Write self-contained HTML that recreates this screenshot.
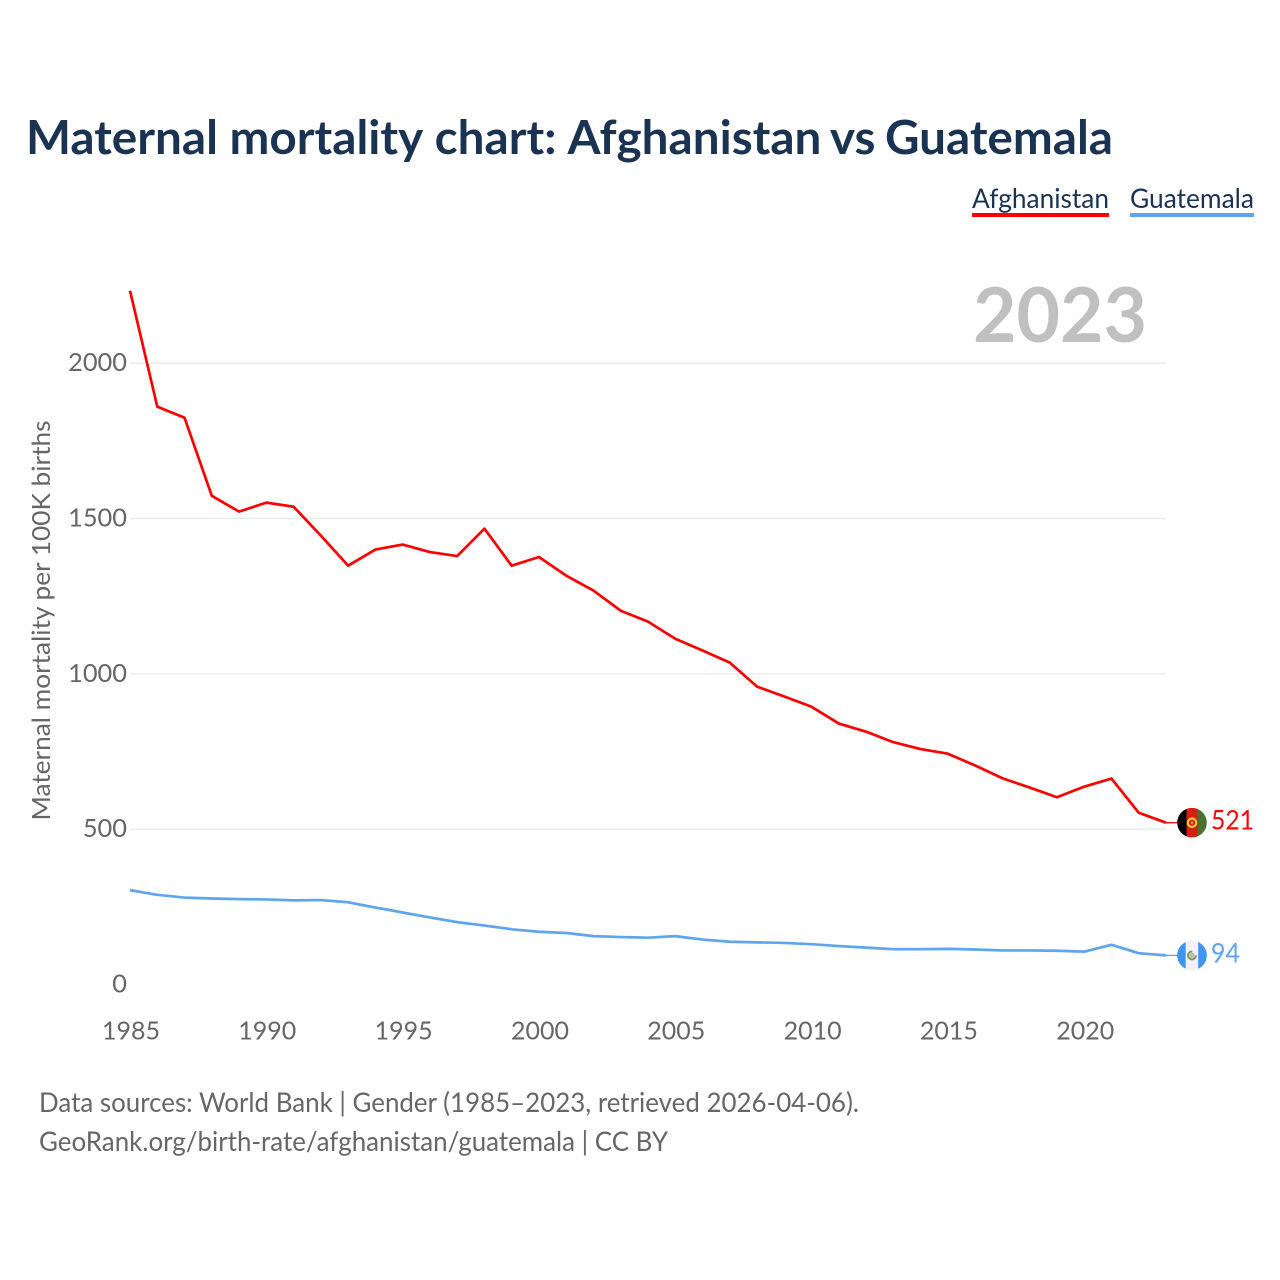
<!DOCTYPE html>
<html lang="en">
<head>
<meta charset="utf-8">
<title>Maternal mortality chart: Afghanistan vs Guatemala</title>
<style>
html,body{margin:0;padding:0;background:#fff;width:1280px;height:1280px;overflow:hidden}
svg{display:block}
text{font-family:"Lato","Carlito","Liberation Sans",sans-serif}
</style>
</head>
<body>
<svg id="chart" xmlns="http://www.w3.org/2000/svg" width="1280" height="1280" viewBox="0 0 1280 1280">
  <rect width="1280" height="1280" fill="#fff"/>
  <text x="26" y="154" font-size="47" font-weight="700" fill="#1a3353" textLength="1087" lengthAdjust="spacingAndGlyphs">Maternal mortality <tspan dx="1">chart:</tspan> <tspan dx="1">Afghanistan</tspan> <tspan dx="-2">vs</tspan> <tspan dx="-2">Guatemala</tspan></text>

  <g>
    <text x="972" y="208" font-size="27" fill="#1a3353" textLength="137" lengthAdjust="spacingAndGlyphs">Afghanistan</text>
    <rect x="972" y="213" width="137" height="4" fill="#ff0000"/>
  </g>
  <g>
    <text x="1130" y="208" font-size="27" fill="#1a3353" textLength="124" lengthAdjust="spacingAndGlyphs">Guatemala</text>
    <rect x="1130" y="213" width="124" height="4" fill="#5ea5ee"/>
  </g>

  <text x="1147" y="342" text-anchor="end" font-size="76" font-weight="700" fill="#c0c0c0" textLength="174" lengthAdjust="spacingAndGlyphs">2023</text>

  <g id="grid"></g>
  <g id="yticks"></g>
  <g id="xticks"></g>

  <text transform="translate(50,620.5) rotate(-90)" text-anchor="middle" font-size="25" fill="#666" textLength="400" lengthAdjust="spacingAndGlyphs">Maternal mortality per 100K births</text>

  <path id="line-afg" fill="none" stroke="#ff0000" stroke-width="2.7" stroke-linejoin="round"/>
  <path id="line-gtm" fill="none" stroke="#5ea5ee" stroke-width="2.7" stroke-linejoin="round"/>
  <line id="lead-afg" stroke="#ff0000" stroke-width="1.3"/>
  <line id="lead-gtm" stroke="#5ea5ee" stroke-width="1.3"/>

  <defs>
    <clipPath id="clip-afg"><circle id="clip-afg-c" cx="1192" cy="0" r="14.8"/></clipPath>
    <clipPath id="clip-gtm"><circle id="clip-gtm-c" cx="1192" cy="0" r="14.8"/></clipPath>
  </defs>

  <g id="flag-afg" clip-path="url(#clip-afg)">
    <rect id="afg-a" x="1177" width="9.5" height="32" fill="#000"/>
    <rect id="afg-b" x="1186.5" width="11" height="32" fill="#d32011"/>
    <rect id="afg-c" x="1197.5" width="10" height="32" fill="#4a7032"/>
    <circle id="afg-d" cx="1192" r="4.2" fill="none" stroke="#f5c242" stroke-width="2.2"/>
    <circle id="afg-e" cx="1192" r="1.2" fill="#f0b060"/>
  </g>
  <g id="flag-gtm" clip-path="url(#clip-gtm)">
    <rect id="gtm-a" x="1177" width="8.8" height="32" fill="#3f94f2"/>
    <rect id="gtm-b" x="1185.8" width="12.4" height="32" fill="#f1f1f1"/>
    <rect id="gtm-c" x="1198.2" width="10" height="32" fill="#3f94f2"/>
    <circle id="gtm-d" cx="1192" r="2.6" fill="#b9bdb0"/>
    <circle id="gtm-e" cx="1192" r="4" fill="none" stroke="#7a9a5a" stroke-width="1.9" stroke-dasharray="19 6.1" transform="rotate(0)"/>
  </g>

  <text id="label-afg" x="1211" font-size="27" fill="#ff0000" textLength="43" lengthAdjust="spacingAndGlyphs"></text>
  <text id="label-gtm" x="1211" font-size="27" fill="#5ea5ee" textLength="29" lengthAdjust="spacingAndGlyphs"></text>

  <text x="39" y="1112" font-size="27" fill="#666" textLength="820" lengthAdjust="spacingAndGlyphs">Data sources: World Bank | Gender (1985–2023, retrieved 2026-04-06).</text>
  <text x="39" y="1151" font-size="27" fill="#666" textLength="629" lengthAdjust="spacingAndGlyphs">GeoRank.org/birth-rate/afghanistan/guatemala | CC BY</text>
</svg>
<script>
const years = [1985,1986,1987,1988,1989,1990,1991,1992,1993,1994,1995,1996,1997,1998,1999,2000,2001,2002,2003,2004,2005,2006,2007,2008,2009,2010,2011,2012,2013,2014,2015,2016,2017,2018,2019,2020,2021,2022,2023];
const afghanistan = [2233,1860,1824,1573,1522,1551,1538,1445,1348,1400,1416,1392,1379,1467,1348,1376,1316,1268,1203,1168,1113,1075,1036,959,927,894,840,814,780,758,743,705,664,634,603,637,663,553,521];
const guatemala = [304,289,280,277,275,274,271,272,265,248,232,216,201,190,178,170,166,156,153,151,156,145,138,136,134,130,124,119,114,114,115,113,110,110,109,106,128,101,94];
const yTickValues = [0,500,1000,1500,2000];
const xTickValues = [1985,1990,1995,2000,2005,2010,2015,2020];

const NS = 'http://www.w3.org/2000/svg';
const xScale = function (yr) { return 130 + (yr - 1985) * (1166 - 130) / 38; };
const yScale = function (v) { return 984.6 - v * 0.31075; };
const make = function (tag, parent) {
  const el = document.createElementNS(NS, tag);
  parent.appendChild(el);
  return el;
};
const linePath = function (vals) {
  return vals.map(function (v, i) {
    return (i ? 'L' : 'M') + xScale(years[i]).toFixed(2) + ' ' + yScale(v).toFixed(2);
  }).join(' ');
};

const grid = document.getElementById('grid');
const yticks = document.getElementById('yticks');
const xticks = document.getElementById('xticks');

yTickValues.forEach(function (v) {
  if (v > 0) {
    const g = make('line', grid);
    
    
    g.setAttribute('x1', xScale(1985));
    g.setAttribute('x2', xScale(2023));
    g.setAttribute('y1', yScale(v));
    g.setAttribute('y2', yScale(v));
    g.setAttribute('stroke', '#e9e9e9');
    g.setAttribute('stroke-width', '1.2');
  }
  const t = make('text', yticks);
  
  
  t.setAttribute('x', 127);
  t.setAttribute('y', yScale(v) + 8);
  t.setAttribute('text-anchor', 'end');
  t.setAttribute('font-size', '25.4');
  t.setAttribute('fill', '#666');
  t.textContent = String(v);
});

xTickValues.forEach(function (yr) {
  const t = make('text', xticks);
  
  
  t.setAttribute('x', xScale(yr) + 1);
  t.setAttribute('y', 1039.5);
  t.setAttribute('text-anchor', 'middle');
  t.setAttribute('font-size', '25');
  t.setAttribute('fill', '#666');
  t.textContent = String(yr);
});

document.getElementById('line-afg').setAttribute('d', linePath(afghanistan));
document.getElementById('line-gtm').setAttribute('d', linePath(guatemala));

const placeEnd = function (key, vals, ids) {
  const last = vals[vals.length - 1];
  const y = yScale(last);
  const lead = document.getElementById('lead-' + key);
  lead.setAttribute('x1', xScale(years[years.length - 1]));
  lead.setAttribute('x2', 1178);
  lead.setAttribute('y1', y);
  lead.setAttribute('y2', y);
  document.getElementById('clip-' + key + '-c').setAttribute('cy', y);
  ids.forEach(function (id) {
    const el = document.getElementById(id);
    if (el.tagName === 'circle') {
      el.setAttribute('cy', y);
    } else {
      el.setAttribute('y', y - 16);
    }
  });
  const label = document.getElementById('label-' + key);
  label.setAttribute('y', y + 7);
  label.textContent = String(last);
};
placeEnd('afg', afghanistan, ['afg-a','afg-b','afg-c','afg-d','afg-e']);
placeEnd('gtm', guatemala, ['gtm-a','gtm-b','gtm-c','gtm-d','gtm-e']);
</script>
</body>
</html>
